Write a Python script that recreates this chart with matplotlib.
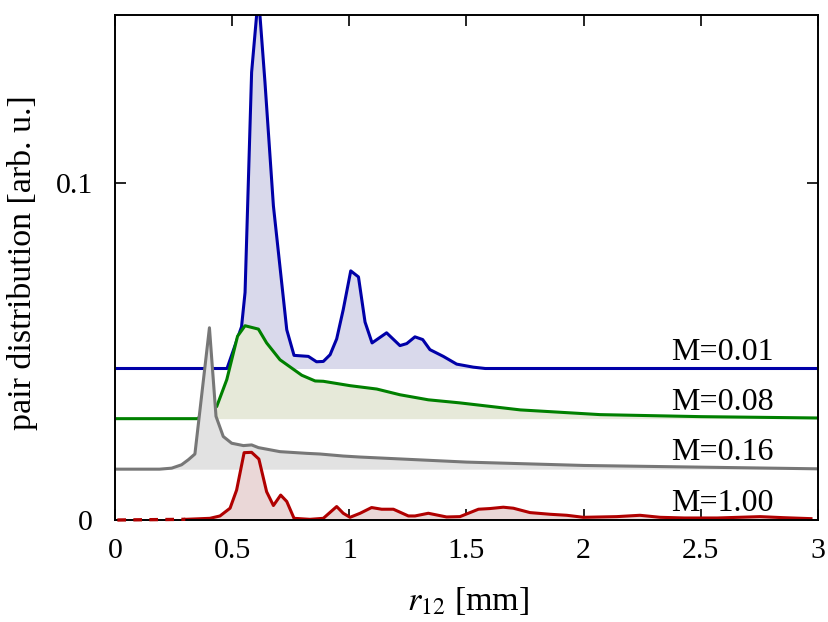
import numpy as np
import matplotlib
matplotlib.use('Agg')
import matplotlib.pyplot as plt

plt.rcParams['font.family'] = ['Liberation Serif', 'DejaVu Serif']
plt.rcParams['mathtext.fontset'] = 'stix'
plt.rcParams['font.size'] = 21.5

# M=0.01 (blue), baseline 0.045
r_a = [0.01, 0.478, 0.54, 0.555, 0.583, 0.612, 0.64, 0.676, 0.733, 0.764, 0.825,
       0.86, 0.889, 0.918, 0.946, 0.974, 1.006, 1.039, 1.067, 1.097, 1.159,
       1.216, 1.245, 1.28, 1.313, 1.344, 1.401, 1.458, 1.529, 1.58, 2.0, 3.0]
g_a = [0.045, 0.045, 0.0574, 0.0676, 0.133, 0.156, 0.130, 0.0933, 0.0565, 0.0489, 0.0486,
       0.0470, 0.0471, 0.0491, 0.0538, 0.0625, 0.0740, 0.0722, 0.0588, 0.0526, 0.0556,
       0.0518, 0.0524, 0.0544, 0.0536, 0.0506, 0.0486, 0.0463, 0.0454, 0.0450, 0.0450, 0.0450]
base_a = 0.045

# M=0.08 (green), baseline 0.0301
r_b = [0.01, 0.351, 0.434, 0.477, 0.523, 0.555, 0.612, 0.647, 0.704, 0.797, 0.854,
       0.889, 1.003, 1.117, 1.216, 1.337, 1.47, 1.73, 2.07, 2.5, 3.0]
g_b = [0.0301, 0.0301, 0.0337, 0.0417, 0.0546, 0.0577, 0.0567, 0.0526, 0.0476, 0.0430, 0.0413,
       0.0412, 0.0399, 0.0389, 0.0372, 0.0357, 0.0348, 0.0327, 0.0313, 0.0307, 0.0303]
base_b = 0.0301

# M=0.16 (gray), baseline 0.0151
r_c = [0.01, 0.19, 0.242, 0.284, 0.313, 0.341, 0.403, 0.431, 0.462, 0.498, 0.548,
       0.583, 0.612, 0.704, 0.818, 0.875, 0.974, 1.046, 1.5, 2.0, 2.5, 3.0]
g_c = [0.0151, 0.0151, 0.0154, 0.0164, 0.0179, 0.0196, 0.0571, 0.0308, 0.0248, 0.0228, 0.0221,
       0.0223, 0.0215, 0.0203, 0.0198, 0.0196, 0.0190, 0.0187, 0.0172, 0.0162, 0.0157, 0.0152]
base_c = 0.0151

# M=1.00 (red), baseline 0
r_d = [0.01, 0.30, 0.405, 0.448, 0.491, 0.519, 0.551, 0.583, 0.614, 0.647, 0.676, 0.707,
       0.733, 0.764, 0.832, 0.889, 0.946, 0.974, 1.003, 1.046, 1.095, 1.138, 1.188,
       1.252, 1.28, 1.337, 1.415, 1.472, 1.551, 1.60, 1.657, 1.70, 1.771, 1.857,
       1.928, 1.999, 2.141, 2.24, 2.326, 2.43, 2.57, 2.753, 2.85, 2.97]
g_d = [0.0, 0.0002, 0.0005, 0.0012, 0.0035, 0.0089, 0.0200, 0.0201, 0.0181, 0.0084, 0.0043, 0.0074,
       0.0055, 0.0005, 0.0002, 0.0005, 0.0040, 0.0020, 0.0008, 0.0020, 0.0037, 0.0032, 0.0032,
       0.0012, 0.0012, 0.0020, 0.0009, 0.0010, 0.0032, 0.0034, 0.0038, 0.0035, 0.0022, 0.0017,
       0.0014, 0.0008, 0.0010, 0.0014, 0.0008, 0.0006, 0.0006, 0.0010, 0.0007, 0.0004]
base_d = 0.0

series = [
    (r_a, g_a, base_a, '#0000a8', '#d9d9eb', 'M=0.01'),
    (r_b, g_b, base_b, '#008000', '#e6e9d9', 'M=0.08'),
    (r_c, g_c, base_c, '#777777', '#e2e2e2', 'M=0.16'),
    (r_d, g_d, base_d, '#b00000', '#ead7d7', 'M=1.00'),
]

fig = plt.figure(figsize=(8.29, 6.22), dpi=100)
ax = fig.add_axes([115/829, 1-520/622, 703/829, 505/622])

z = 2
for r, g, base, lc, fc, lab in series:
    r = np.array(r)
    g = np.array(g)
    ax.fill_between(r, base, g, color=fc, lw=0, zorder=z)
    if base == 0:
        # the near-zero start of the M=1.00 curve shows up dashed
        ax.plot(r[:2], g[:2], color=lc, lw=2.4, dashes=(2.6, 2.2), zorder=25,
                clip_on=False)
        ax.plot(r[1:], g[1:], color=lc, lw=2.2, zorder=z + 0.5)
    else:
        ax.plot(r, g, color=lc, lw=2.2, zorder=z + 0.5)
    ax.text(2.81, base + 0.0026, lab, ha='right', va='baseline', fontsize=23, zorder=10)
    z += 1

ax.set_xlim(0, 3)
ax.set_ylim(0, 0.150)
ax.set_xticks([0, 0.5, 1, 1.5, 2, 2.5, 3])
ax.set_xticklabels(['0', '0.5', '1', '1.5', '2', '2.5', '3'])
ax.set_yticks([0, 0.1])
ax.set_yticklabels(['0', '0.1'])
ax.tick_params(direction='in', length=8, width=1.2, top=True, right=True)
ax.tick_params(axis='x', pad=13)
ax.tick_params(axis='y', pad=16)
for s in ax.spines.values():
    s.set_linewidth(1.4)
    s.set_zorder(20)

ax.set_xlabel(r'$r_{12}$ [mm]', fontsize=24.5)
ax.set_ylabel('pair distribution [arb. u.]', fontsize=24.5)
ax.xaxis.set_label_coords(0.502, -0.128)
ax.yaxis.set_label_coords(-0.1095, 0.509)

fig.savefig('out.png', dpi=100)
